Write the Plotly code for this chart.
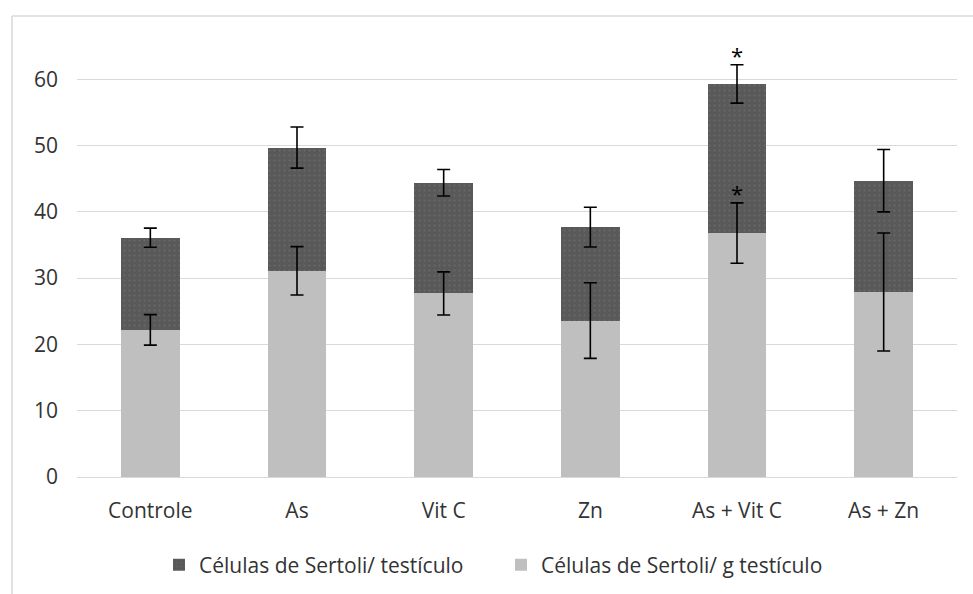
import plotly.graph_objects as go

# Treatment groups
groups = ["Controle", "As", "Vit C", "Zn", "As + Vit C", "As + Zn"]

# Células de Sertoli por grama de testículo (lower stack)
per_gram = [22.2, 31.1, 27.7, 23.6, 36.8, 27.9]
per_gram_err = [2.3, 3.65, 3.25, 5.7, 4.55, 8.9]

# Células de Sertoli por testículo (upper stack segment)
per_testis = [13.9, 18.6, 16.7, 14.1, 22.5, 16.8]
per_testis_err = [1.45, 3.1, 2.0, 3.0, 2.9, 4.7]

# Significance marks: (group, series)
significant = [("As + Vit C", "per_gram"), ("As + Vit C", "per_testis")]

y_ticks = [0, 10, 20, 30, 40, 50, 60]

FONT = "Open Sans"
GRID = "#d9d9d9"
TEXT = "#333333"

stack_top = [g + t for g, t in zip(per_gram, per_testis)]

fig = go.Figure()

fig.add_trace(go.Bar(
    x=groups, y=per_gram,
    name="Células de Sertoli/ g testículo",
    marker=dict(color="#bfbfbf", line=dict(width=0)),
))

fig.add_trace(go.Bar(
    x=groups, y=per_testis,
    name="Células de Sertoli/ testículo",
    marker=dict(color="#595959", line=dict(width=0),
                pattern=dict(shape=".", fgcolor="#7a7a7a", bgcolor="#595959",
                             size=5, solidity=0.12)),
))

# error bars drawn above both bar layers
err_style = dict(type="data", color="#000000", thickness=1.6, width=6.5)
fig.add_trace(go.Scatter(
    x=groups, y=per_gram, mode="markers", marker=dict(opacity=0),
    error_y=dict(array=per_gram_err, **err_style),
    showlegend=False, hoverinfo="skip",
))
fig.add_trace(go.Scatter(
    x=groups, y=stack_top, mode="markers", marker=dict(opacity=0),
    error_y=dict(array=per_testis_err, **err_style),
    showlegend=False, hoverinfo="skip",
))

# asterisks above the error bars of significant groups
for grp, series in significant:
    i = groups.index(grp)
    if series == "per_gram":
        top = per_gram[i] + per_gram_err[i]
    else:
        top = stack_top[i] + per_testis_err[i]
    fig.add_annotation(x=grp, y=top, text="*", showarrow=False,
                       yanchor="bottom", yshift=-7,
                       font=dict(family=FONT, size=22, color="#000000"))

# chart-area border (top and left edges)
fig.add_shape(type="line", xref="paper", yref="paper",
              x0=-65 / 880, x1=1.1, y0=1 - 3 / 464, y1=1 - 3 / 464,
              line=dict(color=GRID, width=1.5))
fig.add_shape(type="line", xref="paper", yref="paper",
              x0=-65 / 880, x1=-65 / 880, y0=1 - 3 / 464, y1=-0.5,
              line=dict(color=GRID, width=1.5))

fig.update_layout(
    width=973, height=594,
    margin=dict(l=77, r=16, t=13, b=117),
    barmode="stack",
    bargap=0.6,
    plot_bgcolor="white",
    paper_bgcolor="white",
    font=dict(family=FONT, size=21, color=TEXT),
    showlegend=True,
    legend=dict(
        orientation="h",
        traceorder="reversed",
        xref="container", yref="container",
        x=159 / 973, y=1 - 565 / 594,
        xanchor="left", yanchor="middle",
        entrywidth=297,
        font=dict(family=FONT, size=21, color=TEXT),
        bgcolor="rgba(0,0,0,0)",
    ),
    xaxis=dict(
        showgrid=False, showline=False, ticks="",
        ticklabelstandoff=19,
        tickfont=dict(family=FONT, size=21, color=TEXT),
    ),
    yaxis=dict(
        range=[0, 70],
        tickvals=y_ticks,
        showgrid=True, gridcolor=GRID, gridwidth=1,
        zeroline=True, zerolinecolor=GRID, zerolinewidth=1,
        showline=False, ticks="",
        ticklabelstandoff=18,
        tickfont=dict(family=FONT, size=21, color=TEXT),
    ),
)

fig.write_html("out.html")
